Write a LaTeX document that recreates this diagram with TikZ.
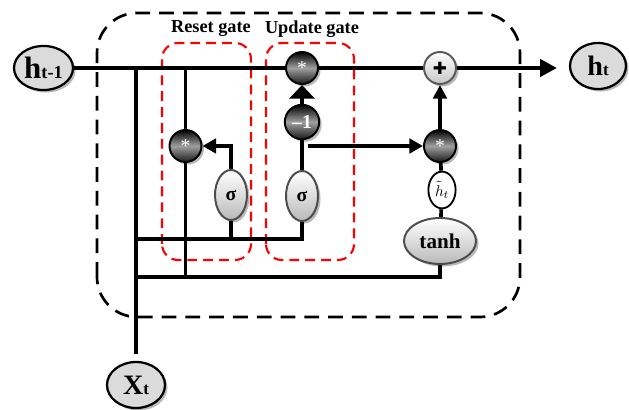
\documentclass[tikz,border=0pt]{standalone}
\usepackage{fontspec}
\setmainfont{Liberation Serif}
\newfontfamily\symfont{DejaVu Sans}
\usetikzlibrary{arrows.meta, shapes.geometric, shadows, calc}

\begin{document}
\begin{tikzpicture}[x=1cm, y=1cm, line join=miter,
    wire/.style={line width=2.6pt},
    mainwire/.style={line width=3.1pt},
    shade/.style={drop shadow={shadow xshift=1.8pt, shadow yshift=-1.8pt, fill=gray!55, opacity=1}},
    io/.style={ellipse, draw, line width=1.6pt, fill=gray!28, inner sep=0pt, shade},
    op/.style={circle, draw=black, line width=1.4pt, inner sep=0pt, minimum size=0.8cm,
        top color=black, bottom color=black!90, middle color=gray!75, text=white, shade},
    addop/.style={circle, draw=gray!70!black, line width=1.4pt, inner sep=0pt, minimum size=0.8cm,
        top color=white, bottom color=gray!45, shade},
    act/.style={ellipse, draw=gray!60!black, line width=1.4pt, inner sep=0pt,
        top color=white, bottom color=gray!55, shade},
    lbl/.style={font=\fontsize{13}{15}\selectfont\bfseries},
    gatebox/.style={draw=red, line width=1.5pt, dash pattern=on 7pt off 4.3pt, rounded corners=0.4cm},
    >={Triangle[length=4.2mm, width=4.2mm]}]
  \useasboundingbox (0,0) rectangle (15.725,10.25);

  % ---------- cell outline and gate frames ----------
  \draw[line width=1.9pt, dash pattern=on 10.5pt off 6.4pt, rounded corners=1cm]
      (2.425,2.325) rectangle (13.0,9.925);
  \draw[gatebox] (4.05,3.75) rectangle (6.275,9.175);
  \draw[gatebox] (6.65,3.75) rectangle (8.85,9.175);
  \node[lbl] (resetlbl) at (5.275,9.525) {Reset gate};
  \node[lbl] (updatelbl) at (7.8,9.525) {Update gate};

  % ---------- inputs and output ----------
  \node[io, minimum width=1.475cm, minimum height=1.1cm] (hprev) at (1.0875,8.55)
      {\fontsize{22}{22}\selectfont\bfseries h\fontsize{13}{13}\selectfont t-1};
  \node[io, minimum width=1.4cm, minimum height=1.15cm] (hnext) at (14.95,8.6)
      {\fontsize{20}{20}\selectfont\bfseries h\fontsize{12}{12}\selectfont t};
  \node[io, minimum width=1.45cm, minimum height=1.15cm] (xt) at (3.4,0.625)
      {\fontsize{20}{20}\selectfont\bfseries X\fontsize{12}{12}\selectfont t};

  % ---------- operators ----------
  \node[op] (rmul) at (4.6375,6.6) {\fontsize{14}{14}\selectfont\raisebox{-0.4ex}{*}};
  \node[op] (umul) at (7.55,8.55) {\fontsize{14}{14}\selectfont\raisebox{-0.4ex}{*}};
  \node[op, minimum size=0.86cm] (uneg) at (7.55,7.2) {\fontsize{14}{14}\selectfont\bfseries –1};
  \node[op] (cmul) at (11.0,6.6) {\fontsize{14}{14}\selectfont\raisebox{-0.4ex}{*}};
  \node[addop] (add) at (11.0,8.55) {\fontsize{12}{12}\selectfont\symfont ✚};

  % ---------- activations ----------
  \node[act, minimum width=0.8cm, minimum height=1.25cm] (rsig) at (5.775,5.375)
      {\fontsize{14}{14}\selectfont\bfseries σ};
  \node[act, minimum width=0.8cm, minimum height=1.25cm] (usig) at (7.55,5.35)
      {\fontsize{14}{14}\selectfont\bfseries σ};
  \node[act, minimum width=1.8cm, minimum height=1.15cm] (tanh) at (11.0,4.225)
      {\fontsize{15}{15}\selectfont\bfseries tanh};
  \node[ellipse, draw, line width=1.3pt, fill=white, inner sep=0pt,
      minimum width=0.68cm, minimum height=0.92cm] (hcand) at (11.05,5.5)
      {\fontsize{11}{11}\selectfont$\tilde{h}_t$};

  % ---------- junctions ----------
  \coordinate (jx) at (3.4,8.55);
  \coordinate (jr) at (4.6375,8.55);
  \coordinate (rbot) at (4.6375,3.325);
  \coordinate (lowl) at (3.4,3.325);
  \coordinate (lowr) at (11.0,3.325);
  \coordinate (midl) at (3.4,4.275);
  \coordinate (midr) at (7.55,4.275);
  \coordinate (rsbot) at (5.775,4.275);
  \coordinate (rsup) at (5.775,6.6);
  \coordinate (zout) at (7.7,6.6);
  \coordinate (hend) at (13.925,8.55);

  % ---------- hidden state path ----------
  \draw[mainwire] (hprev) -- (umul);
  \draw[mainwire] (umul) -- (add);
  \draw[mainwire, ->] (add) -- (hend);

  % ---------- input x_t ----------
  \draw[wire] (jx) -- ([yshift=0.17cm]xt.north);
  \draw[wire] (midl) -- (midr) -- (usig);
  \draw[wire] (lowl) -- (lowr) -- (tanh);

  % ---------- reset gate ----------
  \draw[wire] (jr) -- (rmul);
  \draw[wire] (rmul) -- (rbot);
  \draw[wire] (rsbot) -- (rsig);
  \draw[wire, -{Triangle[length=3.4mm, width=3.6mm]}] (rsig) -- (rsup) -- (rmul);

  % ---------- update gate ----------
  \draw[wire] (usig) -- (uneg);
  \draw[wire, -{Triangle[length=3.4mm, width=6.2mm]}] (uneg) -- (umul);
  \draw[wire, -{Triangle[length=3.4mm, width=3.6mm]}] (zout) -- (cmul);

  % ---------- candidate state ----------
  \draw[wire] (tanh) -- (hcand);
  \draw[wire] (hcand) -- (cmul);
  \draw[wire, -{Triangle[length=3.4mm, width=3.4mm]}] (cmul) -- (add);
\end{tikzpicture}
\end{document}
